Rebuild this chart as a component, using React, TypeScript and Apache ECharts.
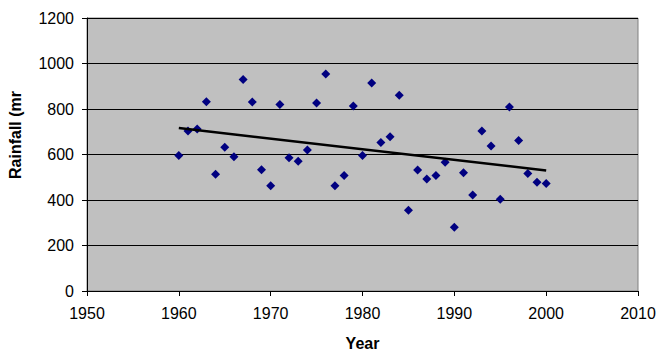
import React, { useEffect, useRef } from "react";
import * as echarts from "echarts";

const years: number[] = [
  1960, 1961, 1962, 1963, 1964, 1965, 1966, 1967, 1968, 1969,
  1970, 1971, 1972, 1973, 1974, 1975, 1976, 1977, 1978, 1979,
  1980, 1981, 1982, 1983, 1984, 1985, 1986, 1987, 1988, 1989,
  1990, 1991, 1992, 1993, 1994, 1995, 1996, 1997, 1998, 1999, 2000,
];
const rainfall: number[] = [
  596, 703, 712, 832, 513, 632, 590, 930, 831, 533,
  463, 820, 586, 570, 620, 826, 954, 463, 508, 813,
  596, 914, 653, 678, 860, 355, 532, 492, 508, 566,
  280, 520, 422, 703, 637, 403, 809, 662, 516, 478, 473,
];
const xTicks = { min: 1950, max: 2010, interval: 10 };
const yTicks = { min: 0, max: 1200, interval: 200 };
const yTitle = "Rainfall (mr";
const xTitle = "Year";

function linearFit(xs: number[], ys: number[]) {
  const n = xs.length;
  const mx = xs.reduce((a, b) => a + b, 0) / n;
  const my = ys.reduce((a, b) => a + b, 0) / n;
  let sxy = 0;
  let sxx = 0;
  for (let i = 0; i < n; i++) {
    sxy += (xs[i] - mx) * (ys[i] - my);
    sxx += (xs[i] - mx) * (xs[i] - mx);
  }
  const slope = sxy / sxx;
  return (x: number) => my + slope * (x - mx);
}

export default function App() {
  const ref = useRef<HTMLDivElement>(null);
  useEffect(() => {
    if (!ref.current) return;
    const chart = echarts.init(ref.current, undefined, { renderer: "svg" });
    const fit = linearFit(years, rainfall);
    const x0 = years[0];
    const x1 = years[years.length - 1];
    const font = "Arial, 'Liberation Sans', sans-serif";
    chart.setOption({
      animation: false,
      backgroundColor: "#ffffff",
      grid: {
        left: 87,
        right: 28,
        top: 18,
        bottom: 68,
        show: true,
        backgroundColor: "#C0C0C0",
        borderColor: "#808080",
        borderWidth: 1,
      },
      xAxis: {
        type: "value",
        min: xTicks.min,
        max: xTicks.max,
        interval: xTicks.interval,
        name: xTitle,
        nameLocation: "middle",
        nameGap: 44,
        nameTextStyle: { fontFamily: font, fontSize: 16, fontWeight: "bold", color: "#000" },
        axisLine: { show: true, lineStyle: { color: "#000", width: 1 } },
        axisTick: { show: true, length: 5, inside: false, lineStyle: { color: "#000" } },
        axisLabel: {
          fontFamily: font,
          fontSize: 16,
          color: "#000",
          margin: 14,
          formatter: (v: number) => String(v),
        },
        splitLine: { show: false },
      },
      yAxis: {
        type: "value",
        min: yTicks.min,
        max: yTicks.max,
        interval: yTicks.interval,
        axisLine: { show: true, lineStyle: { color: "#000", width: 1 } },
        axisTick: { show: true, length: 5, inside: false, lineStyle: { color: "#000" } },
        axisLabel: {
          fontFamily: font,
          fontSize: 16,
          color: "#000",
          margin: 13,
          formatter: (v: number) => String(v),
        },
        splitLine: { show: true, lineStyle: { color: "#000", width: 1 } },
      },
      graphic: [
        {
          type: "text",
          x: 15,
          y: 135,
          rotation: Math.PI / 2,
          style: {
            text: yTitle,
            fontFamily: font,
            fontSize: 16,
            fontWeight: "bold",
            fill: "#000",
            textAlign: "center",
            textVerticalAlign: "middle",
          },
        },
      ],
      series: [
        {
          type: "scatter",
          symbol: "diamond",
          symbolSize: 9,
          itemStyle: { color: "#000080", opacity: 1 },
          data: years.map((y, i) => [y, rainfall[i]]),
          z: 3,
        },
        {
          type: "line",
          symbol: "none",
          lineStyle: { color: "#000", width: 2.5 },
          data: [
            [x0, fit(x0)],
            [x1, fit(x1)],
          ],
          z: 4,
        },
      ],
    });
    return () => chart.dispose();
  }, []);
  return (
    <div
      ref={ref}
      style={{ position: "absolute", left: 0, top: 0, width: 666, height: 359 }}
    />
  );
}
